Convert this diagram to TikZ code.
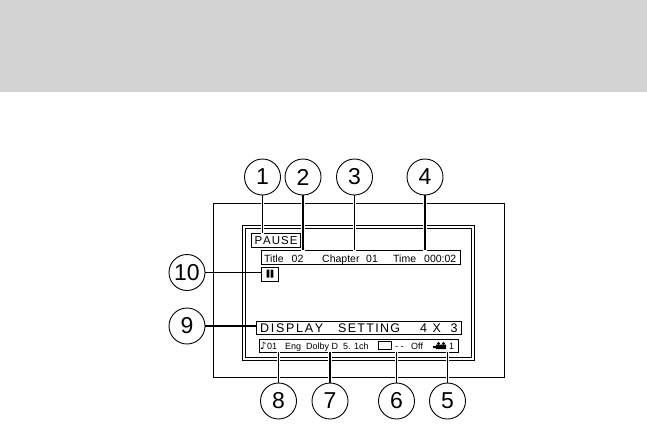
\documentclass[tikz,border=0pt]{standalone}
\usepackage{fontspec}
\setmainfont{Liberation Sans}
\newfontfamily\symfont{DejaVu Sans}
\definecolor{band}{HTML}{D2D2D2}
\tikzset{
  x=1pt,y=-1pt,
  callout/.style={circle,draw=black,line width=0.9pt,minimum size=36pt,inner sep=0pt,font=\fontsize{23}{23}\selectfont},
  frameline/.style={draw=black,line width=1pt},
  infobox/.style={draw=black,line width=1.1pt,fill=white,inner sep=0pt,anchor=north west},
  thin lead/.style={draw=black,line width=1pt},
  thick lead/.style={draw=black,line width=1.8pt},
  small/.style={font=\fontsize{10.5}{11}\selectfont,anchor=base west,inner sep=0pt},
  tiny/.style={font=\fontsize{9}{10}\selectfont,anchor=base west,inner sep=0pt},
  wide/.style={font=\fontsize{11.5}{13}\selectfont,anchor=base west,inner sep=0pt},
  wider/.style={font=\fontsize{12.5}{13}\selectfont,anchor=base west,inner sep=0pt},
}
\begin{document}
\begin{tikzpicture}
\useasboundingbox (0,0) rectangle (647,423);
\fill[band] (0,0) rectangle (647,92);
\draw[frameline] (213.5,203.5) rectangle (504.5,377.5);
\draw[frameline] (242.5,225.5) rectangle (474.5,360.5);
\draw[frameline] (245.5,228.5) rectangle (471.5,357.5);
% boxes
\node[infobox,minimum width=49pt,minimum height=14pt] (pause) at (251,233) {};
\node[infobox,minimum width=199pt,minimum height=14pt] (title) at (261,250) {};
\node[infobox,minimum width=17pt,minimum height=14pt] (bars) at (261,267) {};
\node[infobox,minimum width=205pt,minimum height=13pt] (disp) at (256,321) {};
\node[infobox,minimum width=199pt,minimum height=13pt] (audio) at (259,339) {};
% callouts
\node[callout] (c1) at (262.5,177) {1};
\node[callout] (c2) at (303,177) {2};
\node[callout] (c3) at (354.5,177) {3};
\node[callout] (c4) at (425,177) {4};
\node[callout] (c5) at (447.5,401) {5};
\node[callout] (c6) at (396.5,401) {6};
\node[callout] (c7) at (330,401) {7};
\node[callout] (c8) at (278.5,401) {8};
\node[callout] (c9) at (187,326) {9};
\node[callout] (c10) at (187,272.5) {10};
% leader coordinates
\coordinate (p1) at (262.5,233);
\coordinate (p2) at (303,250);
\coordinate (p3) at (354.5,250);
\coordinate (p4) at (425,250);
\coordinate (p5) at (447.5,352);
\coordinate (p6) at (396.5,352);
\coordinate (p7) at (330,352);
\coordinate (p8) at (278.5,352);
% halos across the frames
\foreach \a/\b in {p1/c1,p2/c2,p3/c3,p4/c4}
  \draw[white,line width=3.5pt] ([yshift=-1pt]\a) -- (\b |- 0,197);
\foreach \a/\b in {p5/c5,p6/c6,p7/c7,p8/c8}
  \draw[white,line width=3.5pt] ([yshift=1pt]\a) -- (\b |- 0,382);
\draw[thin lead] (c1) -- (p1);
\draw[thick lead] (c2) -- (p2);
\draw[thin lead] (c3) -- (p3);
\draw[thick lead] (c4) -- (p4);
\draw[thin lead] (c5) -- (p5);
\draw[thin lead] (c6) -- (p6);
\draw[thick lead] (c7) -- (p7);
\draw[thin lead] (c8) -- (p8);
\draw[thick lead] (c9) -- (disp.west |- c9);
\draw[thin lead] (c10) -- (bars.west |- c10);
% text
\node[wide,anchor=center] at (pause.center) {P\kern1pt A\kern1pt U\kern1pt S\kern1pt E};
\node[small] at (264,262) {Title};
\node[small] at (291.5,262) {02};
\node[small] at (322,262) {Chapter};
\node[small] at (366,262) {01};
\node[small] at (393,262) {Time};
\node[small] at (424,262) {000:02};
\fill (266.7,269.5) rectangle (269.3,277.5) (270.7,269.5) rectangle (273.3,277.5);
\node[wider] at (260,332) {D\kern1.7pt I\kern1.7pt S\kern1.7pt P\kern1.7pt L\kern1.7pt A\kern1.7pt Y};
\node[wider] at (338,332) {S\kern1.3pt E\kern1.3pt T\kern1.3pt T\kern1.3pt I\kern1.3pt N\kern1.3pt G};
\node[wider] at (420,332) {4};
\node[wider] at (432.5,332) {X};
\node[wider] at (450.5,332) {3};
\node[tiny] at (260,349.5) {{\symfont\fontsize{10}{10}\selectfont ♪}};
\node[tiny] at (267,349) {01};
\node[tiny] at (285,349) {Eng};
\node[tiny] at (306,349) {Dolby D};
\node[tiny] at (343,349) {5. 1ch};
\draw[line width=0.9pt] (378.5,341.5) rectangle (391.5,349.5);
\node[tiny] at (395,349) {- -};
\node[tiny] at (411,349) {Off};
\fill (436,344.5) rectangle (446,349) (433,346) rectangle (436,348);
\fill (438.5,343.5) circle (1.7) (443.5,343.5) circle (1.7);
\node[tiny] at (449,349) {1};
\end{tikzpicture}
\end{document}
